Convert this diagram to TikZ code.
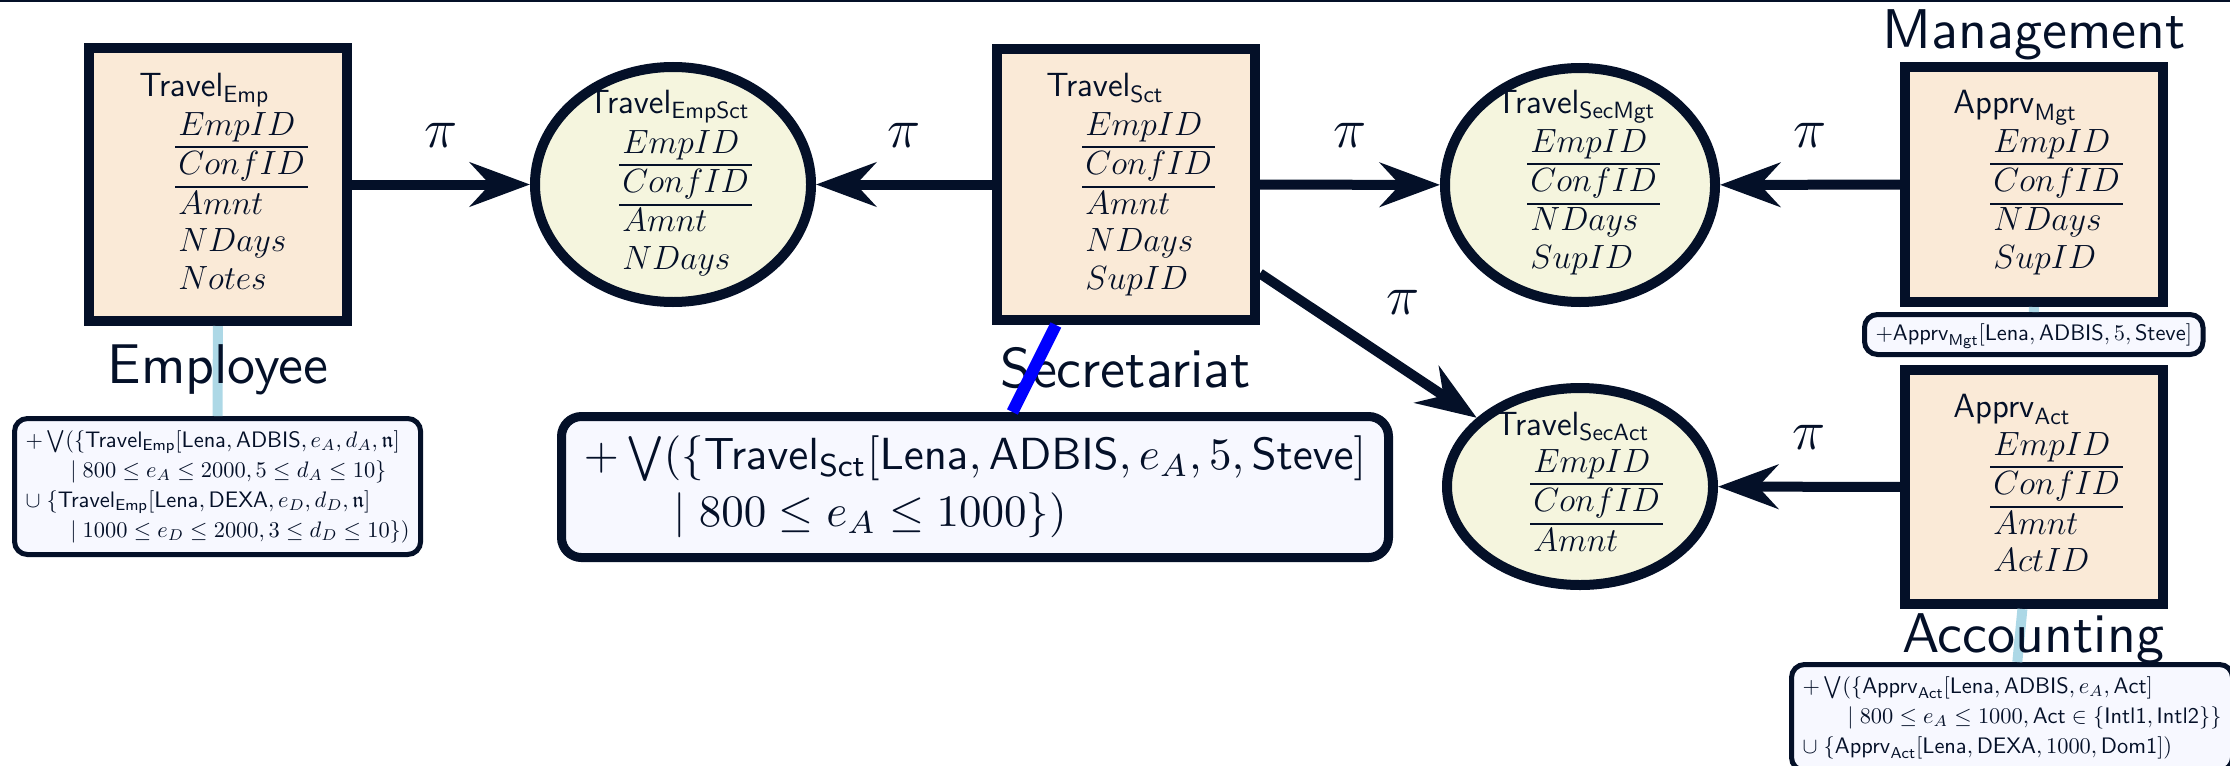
\RequirePackage{fix-cm}
\documentclass[tikz,border=0pt]{standalone}
\usepackage{amsmath,amssymb}
\usetikzlibrary{arrows.meta,shapes.geometric}
\definecolor{ink}{RGB}{4,16,40}
\definecolor{peach}{RGB}{250,234,215}
\definecolor{cream}{RGB}{245,245,222}
\definecolor{notebg}{RGB}{247,248,255}
\definecolor{lblue}{RGB}{173,216,230}
\definecolor{pureblue}{RGB}{0,0,255}
\newcommand{\attrtab}[1]{\setlength{\tabcolsep}{1.5pt}\setlength{\arrayrulewidth}{1pt}\begin{tabular}[t]{l}#1\end{tabular}}
\newcommand{\notetab}[1]{\begin{tabular}{@{}l@{}}#1\end{tabular}}
\newcommand{\bigunit}[1]{\scalebox{2.8}{#1}}
\begin{document}
\begin{tikzpicture}[x=0.5pt,y=-0.5pt,
  every node/.style={text=ink},
  entity/.style={draw=ink, fill=peach, line width=5pt, rectangle, inner sep=0pt, minimum width=129pt},
  view/.style={draw=ink, fill=cream, line width=5pt, ellipse, inner sep=0pt},
  note/.style={draw=ink, fill=notebg, line width=2.5pt, rounded corners=6.5pt, inner xsep=5.5pt, inner ysep=4pt, anchor=north west, font=\fontsize{11.2}{15}\selectfont},
  arr/.style={draw=ink, line width=5pt, -{Stealth[length=30pt,width=22pt,inset=10pt]}},
  boxfont/.style={font=\fontsize{16.8}{18.75}\selectfont, inner sep=0pt, anchor=base west},
  unit/.style={font=\sffamily\fontsize{10}{12}\selectfont, inner sep=0pt, anchor=base},
  pilabel/.style={font=\fontsize{28}{32}\selectfont, inner sep=0pt},
  link/.style={draw=lblue, line width=5pt},
  seclink/.style={draw=pureblue, line width=6pt}
]
\useasboundingbox (0,0) rectangle (2230,765);
\clip (0,0) rectangle (2230,765);
\draw[ink, line width=1.2pt] (0,1) -- (2230,1);

% entities
\node[entity, minimum height=136.5pt] (emp) at (218,184.5) {};
\node[entity, minimum height=135.5pt] (sct) at (1126,184.5) {};
\node[entity, minimum height=117.5pt] (mgt) at (2034,184.5) {};
\node[entity, minimum height=117pt] (act) at (2034,487) {};
% views
\node[view, minimum width=138pt, minimum height=117.5pt] (empsct) at (673,184.5) {};
\node[view, minimum width=135pt, minimum height=117pt] (secmgt) at (1580,185) {};
\node[view, minimum width=133pt, minimum height=98.5pt] (secact) at (1580,486.5) {};

% contents
\node[boxfont] (empT) at (139,97) {$\mathsf{Travel}_{\mathsf{Emp}}$};
\node[boxfont] (empA) at (175,135) {\attrtab{$EmpID$\\\hline $ConfID$\\\hline $Amnt$\\ $NDays$\\ $Notes$}};
\node[boxfont] (sctT) at (1046,97) {$\mathsf{Travel}_{\mathsf{Sct}}$};
\node[boxfont] (sctA) at (1082,135) {\attrtab{$EmpID$\\\hline $ConfID$\\\hline $Amnt$\\ $NDays$\\ $SupID$}};
\node[boxfont] (mgtT) at (1953,113) {$\mathsf{Apprv}_{\mathsf{Mgt}}$};
\node[boxfont] (mgtA) at (1990,152) {\attrtab{$EmpID$\\\hline $ConfID$\\\hline $NDays$\\ $SupID$}};
\node[boxfont] (actT) at (1953,417) {$\mathsf{Apprv}_{\mathsf{Act}}$};
\node[boxfont] (actA) at (1990,455) {\attrtab{$EmpID$\\\hline $ConfID$\\\hline $Amnt$\\ $ActID$}};
\node[boxfont] (empsctT) at (587,113) {$\mathsf{Travel}_{\mathsf{EmpSct}}$};
\node[boxfont] (empsctA) at (619,153) {\attrtab{$EmpID$\\\hline $ConfID$\\\hline $Amnt$\\ $NDays$}};
\node[boxfont] (secmgtT) at (1495,113) {$\mathsf{Travel}_{\mathsf{SecMgt}}$};
\node[boxfont] (secmgtA) at (1527,152) {\attrtab{$EmpID$\\\hline $ConfID$\\\hline $NDays$\\ $SupID$}};
\node[boxfont] (secactT) at (1495,435) {$\mathsf{Travel}_{\mathsf{SecAct}}$};
\node[boxfont] (secactA) at (1530,472) {\attrtab{$EmpID$\\\hline $ConfID$\\\hline $Amnt$}};

% notes
\node[note] (empnote) at (12,416) {\notetab{%
$+\bigvee(\{\mathsf{Travel}_{\mathsf{Emp}}[\mathsf{Lena},\mathsf{ADBIS},e_A,d_A,\mathfrak{n}]$\\
\qquad$\mid 800\leq e_A\leq 2000, 5\leq d_A\leq 10\}$\\
$\cup\;\{\mathsf{Travel}_{\mathsf{Emp}}[\mathsf{Lena},\mathsf{DEXA},e_D,d_D,\mathfrak{n}]$\\
\qquad$\mid 1000\leq e_D\leq 2000, 3\leq d_D\leq 10\})$}};
\node[note, font=\fontsize{10}{12.67}\selectfont, line width=4.5pt, rounded corners=10pt, minimum width=413.5pt, inner ysep=6.75pt] (sctnote) at (557,412) {\scalebox{2.25}{\notetab{%
$+\bigvee(\{\mathsf{Travel}_{\mathsf{Sct}}[\mathsf{Lena},\mathsf{ADBIS},e_A,5,\mathsf{Steve}]$\\
\qquad$\mid 800\leq e_A\leq 1000\})$}}};
\node[note, inner ysep=2.5pt] (mgtnote) at (1862,312) {\notetab{$+\mathsf{Apprv}_{\mathsf{Mgt}}[\mathsf{Lena},\mathsf{ADBIS},5,\mathsf{Steve}]$}};
\node[note] (actnote) at (1789,662) {\notetab{%
$+\bigvee(\{\mathsf{Apprv}_{\mathsf{Act}}[\mathsf{Lena},\mathsf{ADBIS},e_A,\mathsf{Act}]$\\
\qquad$\mid 800\leq e_A\leq 1000,\mathsf{Act}\in\{\mathsf{Intl1},\mathsf{Intl2}\}\}$\\
$\cup\;\{\mathsf{Apprv}_{\mathsf{Act}}[\mathsf{Lena},\mathsf{DEXA},1000,\mathsf{Dom1}])$}};

% light links
\draw[link] (emp) -- (empnote);
\draw[link] (mgt) -- (mgtnote);
\draw[link] (act) -- (actnote);

% unit labels
\node[unit] (empL) at (218,383) {\bigunit{Employee}};
\node[unit] (sctL) at (1126,387) {\bigunit{Secretariat}};
\node[unit] (mgtL) at (2034,49) {\bigunit{Management}};
\node[unit] (actL) at (2033,652) {\bigunit{Accounting}};

\draw[seclink] (sct) -- (sctnote);

% projections
\draw[arr] (emp) -- (empsct) node[pilabel, midway, yshift=24.75pt] {$\pi$};
\draw[arr] (sct) -- (empsct) node[pilabel, midway, yshift=24.75pt] {$\pi$};
\draw[arr] (sct) -- (secmgt) node[pilabel, midway, yshift=24.75pt] {$\pi$};
\draw[arr] (sct) -- (secact) node[pilabel, midway, xshift=17.5pt, yshift=21.5pt] {$\pi$};
\draw[arr] (mgt) -- (secmgt) node[pilabel, midway, yshift=24.75pt] {$\pi$};
\draw[arr] (act) -- (secact) node[pilabel, midway, yshift=24.75pt] {$\pi$};
\end{tikzpicture}
\end{document}
